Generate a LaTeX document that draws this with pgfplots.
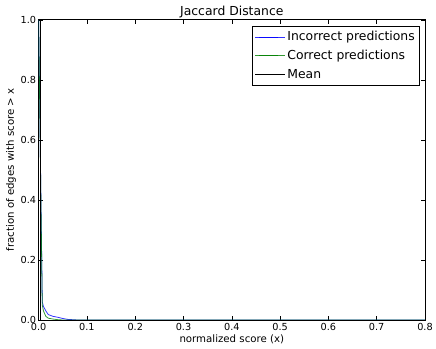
\documentclass[border=0pt]{standalone}
\usepackage{fontspec}
\setmainfont{DejaVu Sans}
\usepackage{pgfplots}
\pgfplotsset{compat=1.18}
\definecolor{mplblue}{rgb}{0,0,1}
\definecolor{mplgreen}{rgb}{0,0.5,0}
\newcommand{\ttl}{\fontsize{12.5bp}{15bp}\selectfont}
\newcommand{\lbl}{\fontsize{10.3bp}{12bp}\selectfont}
\begin{document}
\begin{tikzpicture}[x=1bp,y=1bp]
\path (-39,-29) rectangle (397,323);
\begin{axis}[
  at={(0,0)}, anchor=south west,
  scale only axis, width=390bp, height=303bp,
  xmin=0, xmax=0.8, ymin=0, ymax=1,
  xtick={0,0.1,...,0.8}, ytick={0,0.2,...,1.0},
  tick align=inside, tick pos=both,
  major tick length=4bp,
  axis line style={line width=0.8pt},
  tick style={black, line width=0.5pt},
  /pgf/number format/assume math mode=true,
  /pgf/number format/fixed, /pgf/number format/fixed zerofill,
  /pgf/number format/precision=1,
  ticklabel style={font=\fontsize{9.8bp}{11bp}\selectfont},
  xticklabel style={yshift=0bp},
  yticklabel style={xshift=1bp},
  title={\ttl Jaccard Distance},
  title style={yshift=-7.5bp},
  xlabel={\lbl normalized score (x)},
  ylabel={\lbl fraction of edges with score > x},
  xlabel style={yshift=3bp},
  ylabel style={yshift=-2bp},
  legend style={at={(0.987,0.98)}, anchor=north east, draw=black, line width=0.5pt,
    font=\fontsize{12.5bp}{14bp}\selectfont, row sep=3bp, inner sep=3bp,
    nodes={text height=9.5bp, text depth=2.5bp},
    legend cell align=left},
  legend image code/.code={\path (-4bp,0bp) -- (26bp,0bp);\draw[#1] (0bp,0bp) -- (19bp,0bp);},
]
\addplot[mplblue, line width=0.8pt, opacity=0.8] coordinates {
(0,1) (0.0075,0.06) (0.01,0.045) (0.015,0.03) (0.02,0.018) (0.03,0.012) (0.04,0.009)
(0.05,0.005) (0.06,0.002) (0.07,0.001) (0.08,0) (0.8,0)};
\addlegendentry{Incorrect predictions}
\addplot[mplgreen, line width=0.8pt, opacity=0.8] coordinates {
(0,1) (0.0075,0.05) (0.01,0.03) (0.015,0.012) (0.02,0.006) (0.03,0.003) (0.04,0.001)
(0.05,0) (0.8,0)};
\addlegendentry{Correct predictions}
\addplot[black, line width=0.8pt] coordinates {(0.003,0) (0.003,1)};
\addlegendentry{Mean}
\end{axis}
\end{tikzpicture}
\end{document}
